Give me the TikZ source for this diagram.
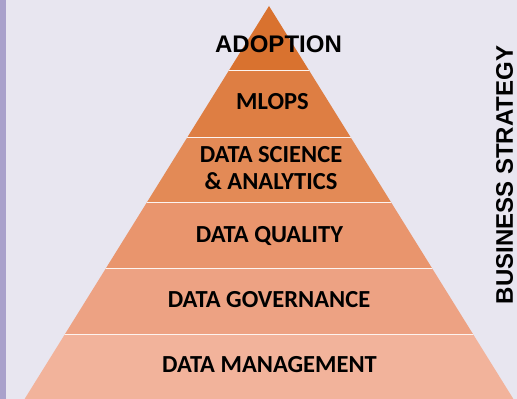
\documentclass[tikz,border=0pt]{standalone}
\usepackage{fontspec}
\newfontfamily\calibrifont{Carlito}
\newfontfamily\arialfont{Liberation Sans}

\definecolor{bgcol}{HTML}{E8E6F0}
\definecolor{barcol}{HTML}{A9A1CB}
\definecolor{adoptcol}{HTML}{D9722F}
\definecolor{mlopscol}{HTML}{DE7E43}
\definecolor{sciencecol}{HTML}{E38A56}
\definecolor{qualitycol}{HTML}{E9956D}
\definecolor{governcol}{HTML}{EDA283}
\definecolor{managecol}{HTML}{F2B39B}

\begin{document}
\begin{tikzpicture}[
    x=1pt, y=1pt,
    tier/.style={font=\calibrifont\bfseries\fontsize{24.5}{27}\selectfont, text=black, anchor=base},
    toptier/.style={font=\arialfont\bfseries\fontsize{24}{28}\selectfont, text=black, anchor=base},
    sep/.style={draw=white!85!managecol, line width=0.9pt}
]

% Canvas
\useasboundingbox (0,0) rectangle (517,399);
\clip (0,0) rectangle (517,399);
\fill[bgcol] (0,0) rectangle (517,399);
\fill[barcol] (0,0) rectangle (6,399);

% Pyramid outline
\coordinate (apex) at (269,393);
\coordinate (baseL) at (21.5,-5);
\coordinate (baseR) at (516.5,-5);

% Pyramid tiers (bands clipped to the triangle)
\begin{scope}
  \clip (apex) -- (baseL) -- (baseR) -- cycle;
  \fill[managecol]  (0,-5)  rectangle (517,65);
  \fill[governcol]  (0,65)  rectangle (517,131);
  \fill[qualitycol] (0,131) rectangle (517,197);
  \fill[sciencecol] (0,197) rectangle (517,262);
  \fill[mlopscol]   (0,262) rectangle (517,329);
  \fill[adoptcol]   (0,329) rectangle (517,399);
  % white separators
  \draw[sep] (0,65)  -- (517,65);
  \draw[sep] (0,131) -- (517,131);
  \draw[sep] (0,197) -- (517,197);
  \draw[sep] (0,262) -- (517,262);
  \draw[sep] (0,329) -- (517,329);
\end{scope}

% Tier labels
\node[toptier] (adoption) at (278.5,346) {ADOPTION};
\node[tier] (mlops) at (272.5,289) {MLOPS};
\node[tier, anchor=center, align=center] (datasci) at (271,230.5) {DATA SCIENCE\\\& ANALYTICS};
\node[tier] (dataqual) at (269.5,156) {DATA QUALITY};
\node[tier] (datagov) at (269,91) {DATA GOVERNANCE};
\node[tier] (datamgmt) at (269.5,26) {DATA MANAGEMENT};

% Side label
\node[toptier, anchor=center, rotate=90, inner sep=1pt, font=\arialfont\bfseries\fontsize{24}{28}\selectfont] (bizstrat) at (504.5,224) {BUSINESS STRATEGY};

\end{tikzpicture}
\end{document}
